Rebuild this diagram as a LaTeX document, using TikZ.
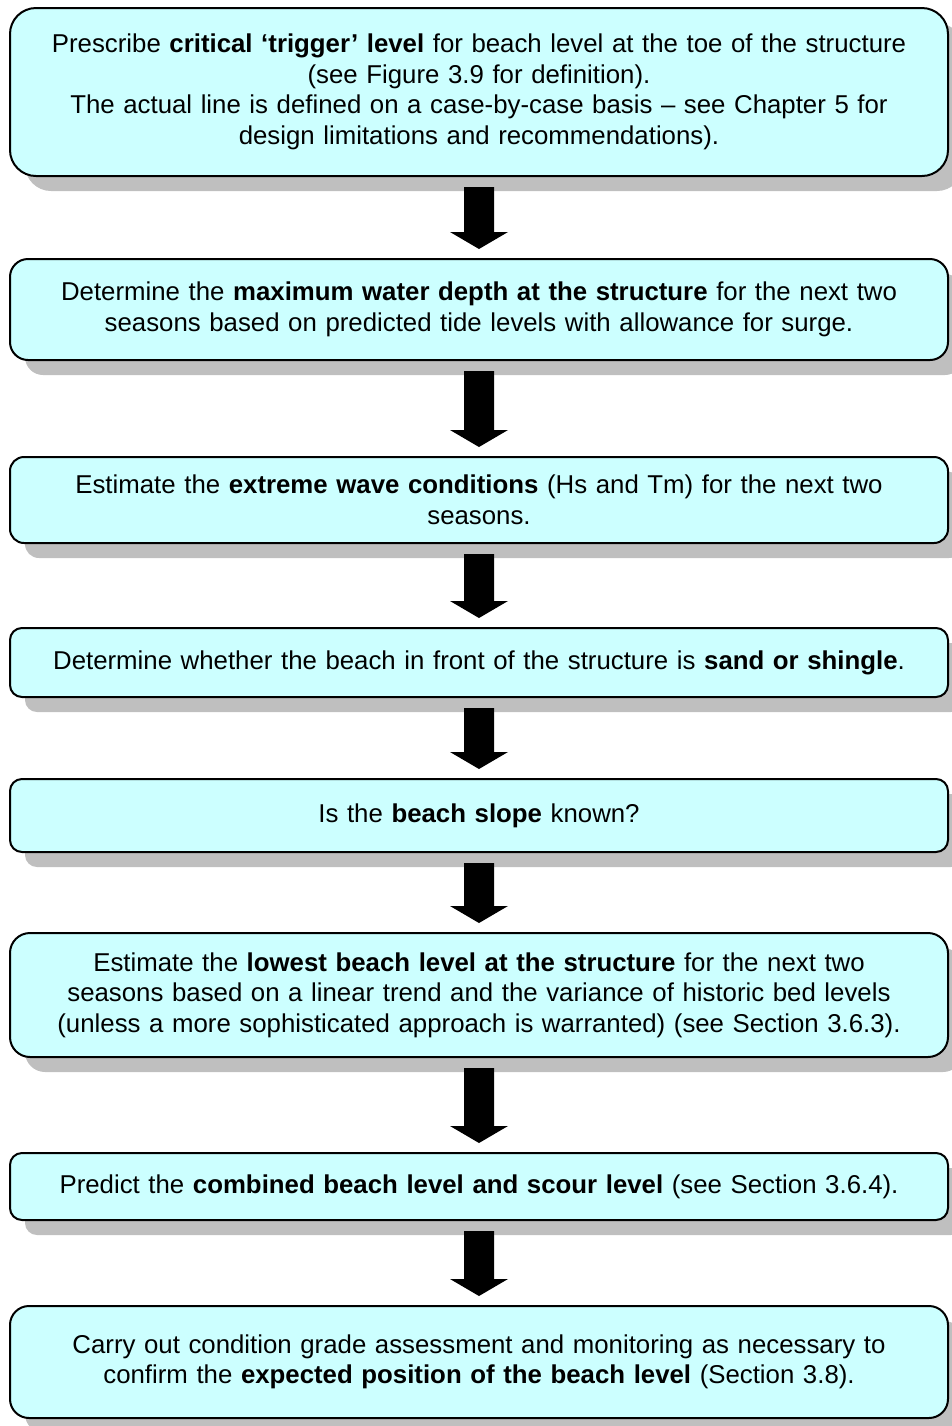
\documentclass[tikz,border=0pt]{standalone}
\usepackage{fontspec}
\setmainfont{Liberation Sans}
\usetikzlibrary{positioning,calc,shadows}
\definecolor{boxcyan}{RGB}{204,255,255}

\begin{document}
\begin{tikzpicture}[x=0.5pt,y=-0.5pt,font=\fontsize{12.9}{15.25}\selectfont,
    stepbox/.style={draw,line width=1pt,fill=boxcyan,align=center,text width=460pt,minimum width=469pt,inner sep=0pt,outer sep=0pt,
      drop shadow={shadow xshift=7.5pt,shadow yshift=-7.5pt,fill=black!25,opacity=1}}]
  \useasboundingbox (0,0) rectangle (952,1426);
  \node[stepbox,anchor=north,minimum height=84pt,rounded corners=13pt] (s1) at (479,8)
    {Prescribe \textbf{critical ‘trigger’ level} for beach level at the toe of the structure\\
     (see Figure 3.9 for definition).\\
     The actual line is defined on a case-by-case basis – see Chapter 5 for\\
     design limitations and recommendations).};
  \node[stepbox,below=41.5pt of s1,minimum height=50.5pt,rounded corners=9pt] (s2)
    {Determine the \textbf{maximum water depth at the structure} for the next two\\
     seasons based on predicted tide levels with allowance for surge.};
  \node[stepbox,below=48.5pt of s2,minimum height=43pt,rounded corners=7pt] (s3)
    {Estimate the \textbf{extreme wave conditions} (Hs and Tm) for the next two\\
     seasons.};
  \node[stepbox,below=42.5pt of s3,minimum height=34.5pt,rounded corners=6pt] (s4)
    {Determine whether the beach in front of the structure is \textbf{sand or shingle}.};
  \node[stepbox,below=41pt of s4,minimum height=36.5pt,rounded corners=6pt] (s5)
    {Is the \textbf{beach slope} known?};
  \node[stepbox,below=40.5pt of s5,minimum height=62pt,rounded corners=10pt] (s6)
    {Estimate the \textbf{lowest beach level at the structure} for the next two\\
     seasons based on a linear trend and the variance of historic bed levels\\
     (unless a more sophisticated approach is warranted) (see Section 3.6.3).};
  \node[stepbox,below=48pt of s6,minimum height=33.5pt,rounded corners=6pt] (s7)
    {Predict the \textbf{combined beach level and scour level} (see Section 3.6.4).};
  \node[stepbox,below=43pt of s7,minimum height=56pt,rounded corners=9.5pt] (s8)
    {Carry out condition grade assessment and monitoring as necessary to\\
     confirm the \textbf{expected position of the beach level} (Section 3.8).};
  % block arrows between the steps
  \foreach \a/\b in {s1/s2,s2/s3,s3/s4,s4/s5,s5/s6,s6/s7,s7/s8}
    \fill ($(\a.south)+(-15,11)$) -- ($(\a.south)+(15,11)$) -- ($(\b.north)+(15,-27)$)
      -- ($(\b.north)+(29,-27)$) -- ($(\b.north)+(0,-10)$) -- ($(\b.north)+(-29,-27)$)
      -- ($(\b.north)+(-15,-27)$) -- cycle;
\end{tikzpicture}
\end{document}
